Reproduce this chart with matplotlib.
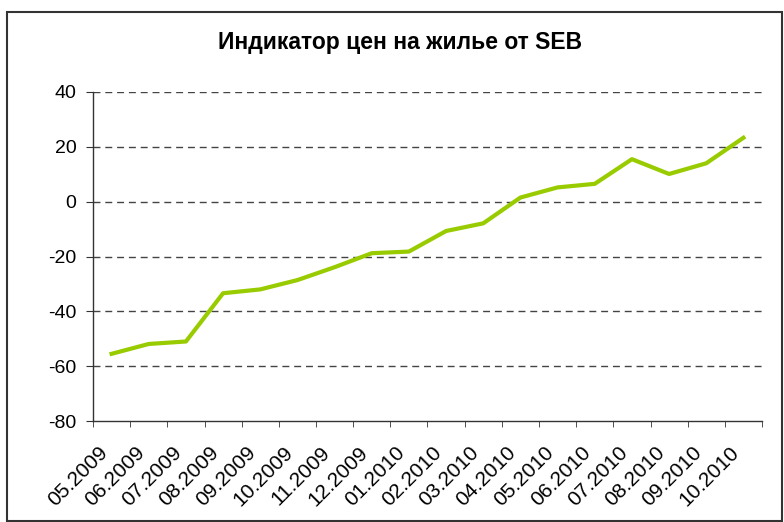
import matplotlib
matplotlib.use("Agg")
import matplotlib.pyplot as plt
from matplotlib.patches import Rectangle
from matplotlib.transforms import ScaledTranslation
import numpy as np

plt.rcParams['font.family'] = ['Liberation Sans', 'DejaVu Sans']

title = "Индикатор цен на жилье от SEB"
months = ["05.2009", "06.2009", "07.2009", "08.2009", "09.2009", "10.2009",
          "11.2009", "12.2009", "01.2010", "02.2010", "03.2010", "04.2010",
          "05.2010", "06.2010", "07.2010", "08.2010", "09.2010", "10.2010"]
values = [-55.5, -51.9, -51.0, -33.4, -32.0, -28.6, -23.9, -18.8, -18.2, -10.7,
          -7.9, 1.5, 5.2, 6.5, 15.5, 10.1, 14.0, 23.3]
yticks = [-80, -60, -40, -20, 0, 20, 40]

fig = plt.figure(figsize=(7.84, 5.22), dpi=100)
ax = fig.add_axes([93/784, 1-421/522, (762-93)/784, (421-92)/522])

x = np.arange(len(months))
ax.plot(x, values, color='#99cc00', lw=3, solid_joinstyle='round', zorder=3)

ax.set_xlim(-0.5, len(months) - 0.5)
ax.set_ylim(-80, 40)
ax.set_yticks(yticks)
ax.set_yticklabels([str(v) for v in yticks], fontsize=14)
for v in yticks[1:]:
    ax.axhline(v, color='#444444', lw=1, ls=(0, (5, 3.5)), zorder=1)

ax.set_xticks(x)
ax.set_xticklabels(months, rotation=45, ha='right', rotation_mode='anchor', fontsize=15)
ax.tick_params(axis='x', which='major', length=0, pad=16)
offset = ScaledTranslation(-14/100, 0, fig.dpi_scale_trans)
for lab in ax.get_xticklabels():
    lab.set_transform(lab.get_transform() + offset)
ax.set_xticks(np.arange(-0.5, len(months)), minor=True)
ax.tick_params(axis='x', which='minor', length=4, direction='out', color='#333333')
ax.tick_params(axis='y', length=5, direction='out', color='#333333', pad=7)

for s in ['top', 'right']:
    ax.spines[s].set_visible(False)
for s in ['left', 'bottom']:
    ax.spines[s].set_color('#333333')
    ax.spines[s].set_linewidth(1)

fig.text(400/784, 1 - 43/522, title, ha='center', va='center', fontsize=16.5, fontweight='bold')

fig.patches.append(Rectangle((7/784, 1/522), 775/784, 509/522, transform=fig.transFigure,
                             fill=False, edgecolor='#333333', lw=1.5))

fig.savefig("out.png", dpi=100)
